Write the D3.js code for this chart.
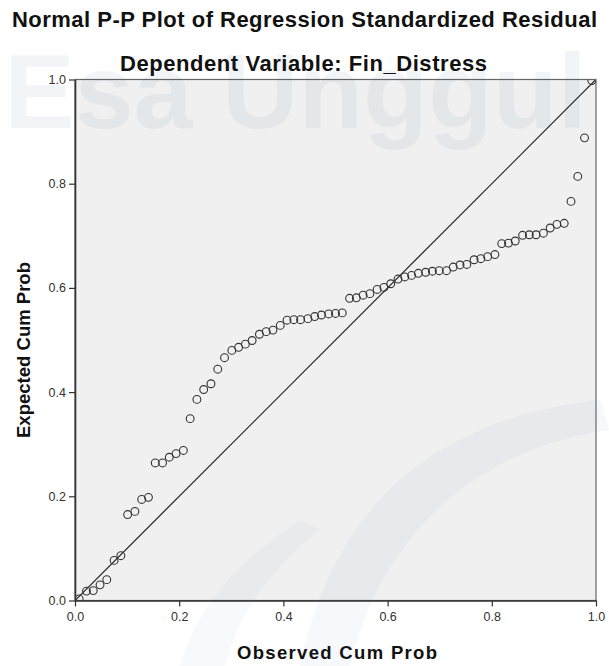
<!DOCTYPE html>
<html>
<head>
<meta charset="utf-8">
<script src="https://cdn.jsdelivr.net/npm/d3@7"></script>
<style>
body { margin: 0; background: #fff; }
text { font-family: "Liberation Sans", Arial, sans-serif; }
</style>
</head>
<body>
<script>
// data
var observedCumProb = [0.008, 0.022, 0.035, 0.048, 0.061, 0.075, 0.088, 0.101, 0.115, 0.128,
    0.141, 0.154, 0.168, 0.181, 0.194, 0.208, 0.221, 0.234, 0.247, 0.261,
    0.274, 0.287, 0.301, 0.314, 0.327, 0.340, 0.354, 0.367, 0.380, 0.394,
    0.407, 0.420, 0.433, 0.447, 0.460, 0.473, 0.487, 0.500, 0.513, 0.527,
    0.540, 0.553, 0.566, 0.580, 0.593, 0.606, 0.620, 0.633, 0.646, 0.659,
    0.673, 0.686, 0.699, 0.713, 0.726, 0.739, 0.752, 0.766, 0.779, 0.792,
    0.806, 0.819, 0.832, 0.845, 0.859, 0.872, 0.885, 0.899, 0.912, 0.925,
    0.939, 0.952, 0.965, 0.978, 0.992];
var expectedCumProb = [0.003, 0.018, 0.019, 0.030, 0.040, 0.077, 0.086, 0.165, 0.171, 0.194,
    0.198, 0.264, 0.264, 0.275, 0.282, 0.288, 0.349, 0.386, 0.405, 0.416,
    0.444, 0.466, 0.480, 0.486, 0.492, 0.499, 0.511, 0.516, 0.519, 0.528,
    0.538, 0.539, 0.539, 0.541, 0.545, 0.548, 0.550, 0.551, 0.552, 0.580,
    0.581, 0.586, 0.589, 0.597, 0.601, 0.608, 0.617, 0.621, 0.624, 0.628,
    0.630, 0.632, 0.633, 0.633, 0.640, 0.644, 0.645, 0.654, 0.656, 0.660,
    0.664, 0.685, 0.686, 0.690, 0.701, 0.702, 0.702, 0.705, 0.715, 0.722,
    0.724, 0.766, 0.814, 0.888, 0.998];
var tickValues = [0, 0.2, 0.4, 0.6, 0.8, 1.0];
var chartTitle = "Normal P-P Plot of Regression Standardized Residual";
var chartSubtitle = "Dependent Variable: Fin_Distress";
var xTitle = "Observed Cum Prob";
var yTitle = "Expected Cum Prob";

var width = 609, height = 666;
var plotLeft = 75, plotTop = 79.5, plotSize = 521;

var svg = d3.select("body").append("svg")
    .attr("width", width)
    .attr("height", height);

var x = d3.scaleLinear().domain([0, 1]).range([plotLeft, plotLeft + plotSize]);
var y = d3.scaleLinear().domain([0, 1]).range([plotTop + plotSize, plotTop]);

// plot background
svg.append("rect")
    .attr("x", x(0)).attr("y", y(1))
    .attr("width", x(1) - x(0)).attr("height", y(0) - y(1))
    .attr("fill", "#f0f0f0");

svg.append("clipPath").attr("id", "plotclip")
    .append("rect")
    .attr("x", x(0)).attr("y", y(1))
    .attr("width", x(1) - x(0)).attr("height", y(0) - y(1));

var plot = svg.append("g").attr("clip-path", "url(#plotclip)");

// reference line
plot.append("line")
    .attr("x1", x(0)).attr("y1", y(0))
    .attr("x2", x(1)).attr("y2", y(1))
    .attr("stroke", "#222")
    .attr("stroke-width", 1.2);

var pts = observedCumProb.map(function (d, i) { return [d, expectedCumProb[i]]; });

plot.selectAll("circle")
    .data(pts)
    .enter()
        .append("circle")
        .attr("cx", function (d) { return x(d[0]); })
        .attr("cy", function (d) { return y(d[1]); })
        .attr("r", 3.9)
        .attr("fill", "none")
        .attr("stroke", "#333")
        .attr("stroke-width", 1.1);

// frame (top, right)
svg.append("rect")
    .attr("x", x(0)).attr("y", y(1))
    .attr("width", x(1) - x(0)).attr("height", y(0) - y(1))
    .attr("fill", "none")
    .attr("stroke", "#666")
    .attr("stroke-width", 1.2);

var fmt = d3.format(".1f");

var gx = svg.append("g")
    .attr("transform", "translate(0," + y(0) + ")")
    .call(d3.axisBottom(x).tickValues(tickValues).tickFormat(fmt).tickSize(6).tickSizeOuter(0));
var gy = svg.append("g")
    .attr("transform", "translate(" + x(0) + ",0)")
    .call(d3.axisLeft(y).tickValues(tickValues).tickFormat(fmt).tickSize(6).tickSizeOuter(0));

[gx, gy].forEach(function (g) {
    g.select(".domain").attr("stroke", "#333").attr("stroke-width", 1.6);
    g.selectAll(".tick line").attr("stroke", "#333").attr("stroke-width", 1.2);
    g.selectAll(".tick text")
        .attr("fill", "#333")
        .style("font-family", "'Liberation Sans', Arial, sans-serif")
        .style("font-size", "12.5px");
});
gx.selectAll(".tick text").attr("dy", "0.9em");

// titles
svg.append("text")
    .attr("x", 12).attr("y", 27)
    .attr("textLength", 585).attr("lengthAdjust", "spacing")
    .style("font-size", "22px").style("font-weight", "bold")
    .attr("fill", "#111")
    .text(chartTitle);
svg.append("text")
    .attr("x", 120).attr("y", 71)
    .attr("textLength", 367).attr("lengthAdjust", "spacing")
    .style("font-size", "22px").style("font-weight", "bold")
    .attr("fill", "#111")
    .text(chartSubtitle);
svg.append("text")
    .attr("x", 237).attr("y", 659)
    .attr("textLength", 200).attr("lengthAdjust", "spacing")
    .style("font-size", "18.5px").style("font-weight", "bold")
    .attr("fill", "#111")
    .text(xTitle);
svg.append("text")
    .attr("transform", "translate(30,438) rotate(-90)")
    .attr("textLength", 176).attr("lengthAdjust", "spacing")
    .style("font-size", "18.5px").style("font-weight", "bold")
    .attr("fill", "#111")
    .text(yTitle);

// faint watermark laid over the page
var wm = svg.append("g").attr("pointer-events", "none");
wm.append("text")
    .attr("x", 4).attr("y", 128)
    .style("font-size", "106px").style("font-weight", "bold")
    .attr("fill", "#2b5797").attr("opacity", 0.055)
    .text("Esa Unggul");
wm.append("path")
    .attr("d", "M300,666 C330,520 420,420 600,400 L609,430 C470,450 380,540 350,666 Z")
    .attr("fill", "#2b5797").attr("opacity", 0.045);
wm.append("path")
    .attr("d", "M180,666 C200,600 240,560 300,520 L320,530 C270,570 240,610 225,666 Z")
    .attr("fill", "#2b5797").attr("opacity", 0.035);
</script>
</body>
</html>
